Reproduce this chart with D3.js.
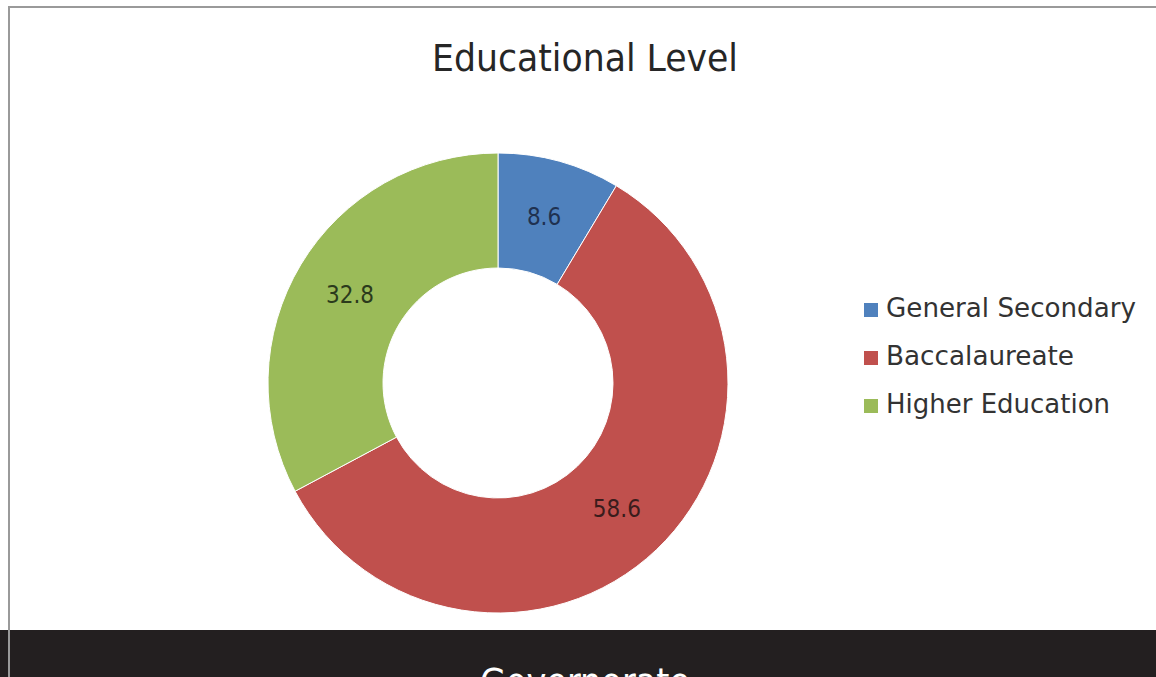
<!DOCTYPE html>
<html><head><meta charset="utf-8">
<script src="https://cdn.jsdelivr.net/npm/d3@7"></script>
<style>html,body{margin:0;padding:0;background:#fff;overflow:hidden}</style>
</head><body>
<svg id="c" width="1156" height="677"></svg>
<script>
const categories = ["General Secondary", "Baccalaureate", "Higher Education"];
const values = [8.6, 58.6, 32.8];
const colors = ["#4f81bd", "#c0504d", "#9bbb59"];
const labelColors = ["#1f3150", "#3a1c1c", "#2b3a1c"];
const title = "Educational Level";
const footer = "Governorate";

const svg = d3.select("#c");
const font = "'DejaVu Sans Condensed','Liberation Sans Narrow','Roboto Condensed',sans-serif";

svg.append("rect").attr("x",0).attr("y",0).attr("width",1156).attr("height",677).attr("fill","#fff");
// frame
svg.append("line").attr("x1",8).attr("x2",1156).attr("y1",7).attr("y2",7).attr("stroke","#9a9a9a").attr("stroke-width",2);
// dark footer
svg.append("rect").attr("x",0).attr("y",630).attr("width",1156).attr("height",47).attr("fill","#231f20");
svg.append("line").attr("x1",9).attr("x2",9).attr("y1",6).attr("y2",677).attr("stroke","#9a9a9a").attr("stroke-width",2);

svg.append("text").attr("x",585).attr("y",71).attr("text-anchor","middle")
  .attr("font-family",font).attr("font-size",37).attr("fill","#262626")
  .attr("textLength",306).attr("lengthAdjust","spacingAndGlyphs").text(title);

svg.append("text").attr("x",585).attr("y",695).attr("text-anchor","middle")
  .attr("font-family",font).attr("font-size",38).attr("fill","#fff")
  .attr("textLength",210).attr("lengthAdjust","spacingAndGlyphs").text(footer);

const cx = 498, cy = 383, rOut = 230, rIn = 115;
const pie = d3.pie().sort(null).value(d => d);
const arc = d3.arc().innerRadius(rIn).outerRadius(rOut);
const g = svg.append("g").attr("transform",`translate(${cx},${cy})`);
const arcs = pie(values);
g.selectAll("path").data(arcs).enter().append("path")
  .attr("d",arc).attr("fill",(d,i)=>colors[i]).attr("stroke","#fff").attr("stroke-width",1);
g.selectAll("text").data(arcs).enter().append("text")
  .attr("transform",d=>`translate(${arc.centroid(d)})`)
  .attr("text-anchor","middle").attr("dy","0.36em")
  .attr("font-family",font).attr("font-size",24).attr("fill",(d,i)=>labelColors[i])
  .text(d=>d.data.toFixed(1));

const legendW = [250, 188, 224];
const leg = svg.append("g");
categories.forEach((c,i)=>{
  const y = 317 + i*48;
  leg.append("rect").attr("x",864).attr("y",y-14).attr("width",14).attr("height",14).attr("fill",colors[i]);
  leg.append("text").attr("x",886).attr("y",y).attr("font-family",font).attr("font-size",26)
    .attr("fill","#333").attr("textLength",legendW[i]).attr("lengthAdjust","spacingAndGlyphs").text(c);
});
</script>
</body></html>
